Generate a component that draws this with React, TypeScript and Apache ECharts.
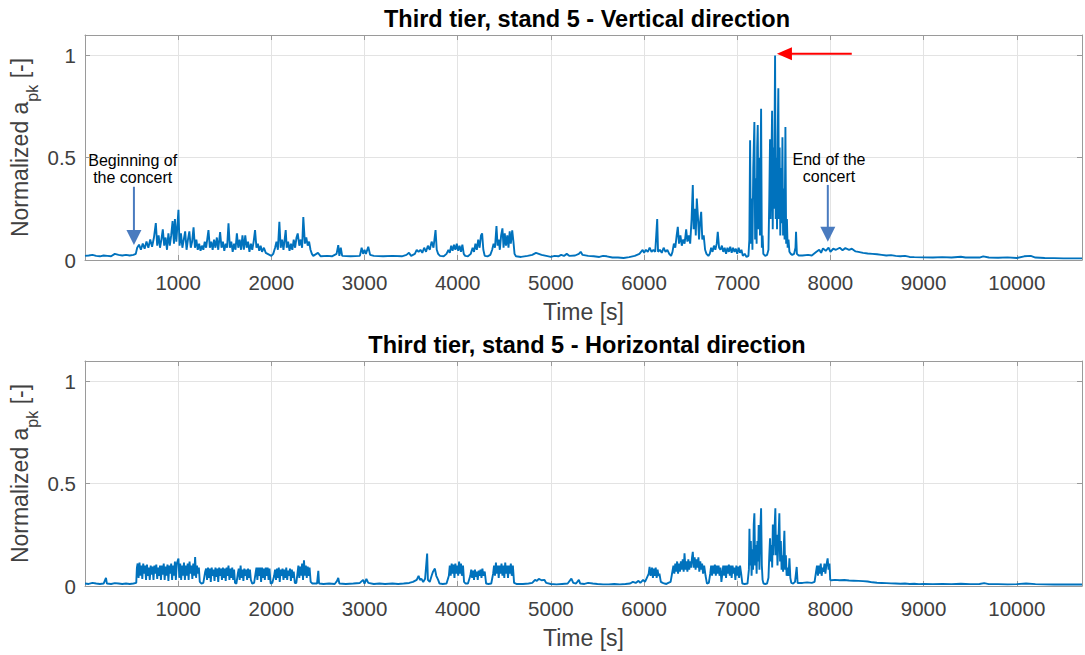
import React, { useEffect, useRef } from "react";
import * as echarts from "echarts";

const FONT = "Arial, 'Liberation Sans', Helvetica, sans-serif";
const X_MAX = 10700;
const Y_MAX = 1.1;
const TITLES = [
  "Third tier, stand 5 - Vertical direction",
  "Third tier, stand 5 - Horizontal direction",
];
const X_NAME = "Time [s]";
const X_TICK_LABELS = [1000, 2000, 3000, 4000, 5000, 6000, 7000, 8000, 9000, 10000];
const Y_TICK_LABELS = [0, 0.5, 1];

type Pt = [number, number];

// ---------- Vertical direction ----------
const vertPre: Pt[] = [[0,0.02],[40,0.022],[80,0.025],[120,0.02],[160,0.018],[200,0.022],[240,0.02],[280,0.018],[320,0.03],[360,0.025],[400,0.022],[440,0.025],[480,0.022],[520,0.025],[545,0.03]];
const vertFirstSet: Pt[] = [[560,0.06],[580,0.075],[600,0.05],[620,0.08],[640,0.055],[660,0.09],[680,0.06],[700,0.1],[720,0.065],[740,0.11],[760,0.18],[775,0.07],[790,0.12],[805,0.06],[820,0.1],[835,0.15],[850,0.07],[865,0.11],[880,0.05],[895,0.13],[910,0.07],[925,0.12],[940,0.19],[955,0.08],[965,0.2],[980,0.09],[1003,0.245],[1015,0.07],[1030,0.13],[1045,0.06],[1060,0.1],[1075,0.14],[1090,0.05],[1105,0.1],[1120,0.14],[1135,0.06],[1150,0.09],[1165,0.16],[1180,0.06],[1195,0.1],[1210,0.05],[1225,0.08],[1240,0.045],[1255,0.07],[1270,0.05],[1285,0.09],[1300,0.06],[1325,0.146],[1340,0.06],[1355,0.09],[1370,0.05],[1385,0.1],[1400,0.06],[1415,0.11],[1430,0.05],[1450,0.136],[1465,0.06],[1480,0.09],[1495,0.045],[1510,0.08],[1525,0.06],[1540,0.18],[1555,0.06],[1570,0.09],[1585,0.04],[1600,0.08],[1615,0.05],[1630,0.13],[1645,0.06],[1660,0.1],[1675,0.05],[1690,0.12],[1705,0.05],[1720,0.12],[1735,0.06],[1750,0.09],[1765,0.04],[1780,0.08],[1795,0.05],[1810,0.09],[1825,0.146],[1840,0.06],[1855,0.08],[1870,0.045],[1885,0.07],[1900,0.04],[1920,0.06],[1940,0.035],[1960,0.03],[1980,0.025],[2000,0.02],[2020,0.03],[2040,0.06],[2055,0.09],[2070,0.05],[2086,0.187],[2100,0.06],[2115,0.1],[2130,0.05],[2154,0.146],[2165,0.06],[2180,0.09],[2195,0.045],[2210,0.08],[2225,0.05],[2240,0.1],[2255,0.06],[2270,0.11],[2283,0.13],[2300,0.07],[2315,0.1],[2330,0.06],[2343,0.21],[2360,0.08],[2375,0.11],[2390,0.07],[2405,0.09],[2420,0.05],[2435,0.03],[2450,0.02]];
const vertInterval: Pt[] = [[2500,0.035],[2530,0.018],[2600,0.02],[2650,0.018],[2700,0.03],[2718,0.073],[2730,0.02],[2745,0.06],[2760,0.02],[2850,0.018],[2950,0.02],[2969,0.06],[2985,0.03],[3000,0.05],[3015,0.03],[3040,0.065],[3060,0.025],[3100,0.02],[3200,0.018],[3300,0.02],[3400,0.018],[3450,0.025],[3477,0.035],[3500,0.02],[3540,0.03],[3560,0.05],[3580,0.04]];
const vertSecondSet: Pt[] = [[3600,0.05],[3620,0.035],[3640,0.06],[3660,0.04],[3680,0.07],[3700,0.05],[3720,0.09],[3740,0.06],[3762,0.146],[3775,0.05],[3790,0.03],[3810,0.02],[3850,0.018],[3880,0.03],[3900,0.05],[3915,0.035],[3930,0.07],[3945,0.045],[3960,0.075],[3975,0.05],[3990,0.08],[4005,0.045],[4020,0.07],[4035,0.04],[4050,0.075],[4065,0.03],[4080,0.02],[4110,0.018],[4140,0.03],[4160,0.06],[4175,0.04],[4190,0.08],[4205,0.05],[4220,0.1],[4235,0.06],[4250,0.12],[4262,0.13],[4275,0.05],[4290,0.02],[4320,0.018],[4350,0.025],[4370,0.05],[4385,0.08],[4400,0.06],[4416,0.166],[4428,0.07],[4440,0.1],[4452,0.05],[4466,0.12],[4480,0.155],[4492,0.06],[4505,0.13],[4518,0.07],[4532,0.12],[4545,0.06],[4558,0.14],[4570,0.08],[4585,0.145],[4598,0.09],[4610,0.03],[4625,0.018]];
const vertQuiet: Pt[] = [[4680,0.015],[4750,0.02],[4800,0.025],[4840,0.035],[4870,0.03],[4900,0.025],[4950,0.02],[5000,0.015],[5040,0.02],[5080,0.018],[5110,0.025],[5140,0.02],[5170,0.03],[5200,0.02],[5260,0.022],[5300,0.03],[5320,0.04],[5340,0.025],[5400,0.02],[5460,0.018],[5520,0.015],[5560,0.02],[5600,0.018],[5660,0.012],[5720,0.012],[5780,0.01],[5840,0.014],[5900,0.02],[5950,0.03],[5985,0.05]];
const vertThirdSet: Pt[] = [[6000,0.035],[6020,0.05],[6040,0.04],[6060,0.06],[6080,0.04],[6100,0.05],[6120,0.04],[6141,0.2],[6150,0.04],[6170,0.05],[6190,0.035],[6210,0.06],[6230,0.04],[6250,0.05],[6270,0.03],[6290,0.02],[6305,0.04],[6320,0.08],[6335,0.06],[6350,0.12],[6362,0.162],[6375,0.08],[6390,0.12],[6405,0.07],[6420,0.1],[6435,0.08],[6452,0.15],[6465,0.09],[6480,0.12],[6495,0.08],[6510,0.2],[6523,0.366],[6532,0.15],[6545,0.25],[6555,0.12],[6566,0.3],[6577,0.22],[6590,0.1],[6600,0.18],[6613,0.236],[6625,0.1],[6640,0.12],[6655,0.05],[6670,0.03],[6690,0.02],[6705,0.03],[6720,0.06],[6735,0.04],[6750,0.07],[6765,0.05],[6780,0.08],[6791,0.138],[6805,0.06],[6820,0.05],[6835,0.07],[6850,0.04],[6865,0.06],[6880,0.03],[6895,0.06],[6910,0.04],[6925,0.065],[6940,0.035],[6955,0.06],[6970,0.04],[6985,0.055],[7000,0.03],[7015,0.06],[7030,0.035],[7045,0.05]];
const vertPeak: Pt[] = [[7060,0.02],[7080,0.03],[7100,0.015],[7120,0.02],[7130,0.1],[7138,0.585],[7146,0.08],[7155,0.3],[7163,0.05],[7172,0.45],[7184,0.675],[7192,0.1],[7200,0.4],[7208,0.08],[7214,0.55],[7220,0.66],[7228,0.15],[7236,0.5],[7244,0.12],[7256,0.74],[7264,0.06],[7272,0.12],[7280,0.03],[7300,0.02],[7320,0.025],[7335,0.05],[7344,0.3],[7352,0.59],[7358,0.2],[7366,0.45],[7374,0.73],[7381,0.15],[7388,0.55],[7395,0.25],[7406,1.0],[7413,0.2],[7420,0.5],[7427,0.15],[7434,0.6],[7441,0.84],[7448,0.2],[7455,0.55],[7462,0.12],[7470,0.45],[7477,0.18],[7485,0.6],[7492,0.12],[7500,0.35],[7508,0.1],[7517,0.65],[7525,0.08],[7533,0.2],[7541,0.06],[7550,0.1],[7560,0.04],[7575,0.03],[7590,0.025],[7610,0.03],[7625,0.06],[7631,0.138],[7640,0.03],[7660,0.022]];
const vertTail: Pt[] = [[7700,0.022],[7760,0.025],[7800,0.022],[7850,0.04],[7880,0.05],[7900,0.035],[7920,0.057],[7950,0.045],[7980,0.06],[8000,0.04],[8030,0.055],[8060,0.05],[8100,0.06],[8130,0.048],[8160,0.058],[8200,0.05],[8230,0.055],[8270,0.042],[8300,0.04],[8350,0.035],[8400,0.032],[8450,0.03],[8500,0.028],[8550,0.025],[8600,0.022],[8650,0.024],[8700,0.02],[8750,0.018],[8800,0.02],[8850,0.015],[8900,0.014],[9000,0.013],[9100,0.012],[9200,0.014],[9300,0.012],[9400,0.016],[9450,0.012],[9500,0.013],[9600,0.012],[9640,0.018],[9700,0.012],[9800,0.011],[9900,0.013],[10000,0.01],[10080,0.018],[10150,0.02],[10200,0.012],[10300,0.01],[10400,0.009],[10500,0.008],[10600,0.008],[10700,0.008]];

// ---------- Horizontal direction ----------
const horPre: Pt[] = [[0,0.012],[40,0.01],[80,0.015],[120,0.012],[160,0.01],[200,0.012],[225,0.04],[235,0.012],[280,0.01],[320,0.014],[360,0.012],[400,0.01],[440,0.012],[480,0.01],[520,0.012],[550,0.015]];
const horFirstSet: Pt[] = [[557,0.09],[565,0.11],[575,0.04],[585,0.115],[595,0.05],[605,0.1],[615,0.035],[625,0.11],[635,0.06],[645,0.1],[655,0.03],[665,0.105],[675,0.05],[685,0.09],[695,0.03],[705,0.1],[715,0.055],[725,0.095],[735,0.03],[745,0.1],[755,0.06],[765,0.105],[775,0.035],[785,0.09],[795,0.05],[805,0.1],[815,0.03],[825,0.1],[835,0.055],[845,0.11],[855,0.03],[865,0.095],[875,0.05],[885,0.105],[895,0.025],[905,0.1],[915,0.06],[925,0.11],[935,0.03],[945,0.1],[955,0.05],[965,0.12],[975,0.03],[985,0.11],[1003,0.134],[1012,0.04],[1022,0.11],[1032,0.03],[1042,0.1],[1052,0.05],[1062,0.115],[1072,0.03],[1082,0.1],[1092,0.05],[1102,0.11],[1112,0.03],[1122,0.12],[1132,0.06],[1142,0.1],[1152,0.035],[1162,0.11],[1172,0.05],[1182,0.142],[1192,0.04],[1202,0.1],[1212,0.06],[1222,0.09],[1232,0.02],[1250,0.012],[1270,0.015],
[1290,0.07],[1300,0.085],[1310,0.03],[1320,0.09],[1330,0.04],[1340,0.085],[1350,0.02],[1360,0.09],[1370,0.05],[1380,0.08],[1390,0.025],[1400,0.09],[1410,0.045],[1420,0.085],[1430,0.02],[1440,0.09],[1450,0.05],[1460,0.085],[1470,0.03],[1480,0.09],[1490,0.04],[1500,0.085],[1510,0.025],[1520,0.09],[1530,0.05],[1540,0.1],[1550,0.03],[1560,0.085],[1570,0.04],[1580,0.09],[1590,0.03],[1600,0.08],[1610,0.015],[1625,0.012],
[1640,0.06],[1650,0.085],[1660,0.03],[1670,0.1],[1680,0.04],[1690,0.08],[1700,0.025],[1710,0.085],[1720,0.05],[1730,0.08],[1740,0.03],[1750,0.085],[1760,0.04],[1770,0.08],[1780,0.03],[1795,0.012],[1815,0.015],
[1830,0.06],[1840,0.09],[1850,0.03],[1860,0.09],[1870,0.05],[1880,0.09],[1890,0.02],[1900,0.09],[1910,0.04],[1920,0.085],[1930,0.03],[1940,0.09],[1950,0.05],[1960,0.09],[1970,0.03],[1980,0.085],[1992,0.012],[2010,0.015],
[2030,0.05],[2040,0.08],[2050,0.03],[2060,0.085],[2070,0.04],[2080,0.09],[2090,0.02],[2100,0.08],[2110,0.05],[2120,0.085],[2130,0.03],[2140,0.08],[2150,0.04],[2160,0.09],[2170,0.03],[2180,0.075],[2190,0.05],[2200,0.085],[2210,0.025],[2220,0.08],[2230,0.04],[2240,0.07],[2252,0.015],[2268,0.015],
[2280,0.06],[2290,0.1],[2300,0.04],[2310,0.095],[2320,0.05],[2330,0.11],[2340,0.03],[2350,0.126],[2360,0.05],[2370,0.1],[2380,0.04],[2390,0.095],[2400,0.05],[2410,0.09],[2422,0.02],[2440,0.012]];
const horInterval: Pt[] = [[2490,0.012],[2504,0.074],[2512,0.012],[2560,0.01],[2620,0.012],[2680,0.01],[2705,0.025],[2718,0.04],[2730,0.012],[2800,0.01],[2880,0.012],[2950,0.015],[2985,0.03],[3000,0.012],[3020,0.035],[3040,0.015],[3100,0.01],[3160,0.012],[3220,0.01],[3300,0.012],[3360,0.01],[3420,0.012],[3480,0.015],[3520,0.02],[3560,0.03],[3580,0.05],[3595,0.03]];
const horSecondSet: Pt[] = [[3610,0.035],[3630,0.02],[3650,0.035],[3672,0.159],[3680,0.03],[3700,0.02],[3720,0.05],[3735,0.07],[3755,0.085],[3770,0.05],[3790,0.03],[3805,0.012],[3840,0.01],[3880,0.012],[3905,0.05],[3915,0.1],[3925,0.05],[3935,0.11],[3945,0.06],[3955,0.105],[3965,0.04],[3975,0.11],[3985,0.06],[3995,0.1],[4005,0.05],[4015,0.12],[4025,0.06],[4035,0.11],[4045,0.05],[4057,0.1],[4068,0.02],[4085,0.012],[4110,0.012],[4135,0.05],[4145,0.08],[4155,0.04],[4165,0.075],[4175,0.03],[4185,0.08],[4195,0.045],[4205,0.07],[4215,0.03],[4225,0.075],[4235,0.05],[4245,0.08],[4255,0.04],[4265,0.085],[4275,0.05],[4290,0.07],[4305,0.012],[4330,0.01],[4360,0.012],[4380,0.06],[4390,0.1],[4400,0.05],[4410,0.115],[4420,0.06],[4430,0.1],[4440,0.04],[4450,0.1],[4460,0.06],[4470,0.11],[4480,0.05],[4490,0.1],[4500,0.04],[4510,0.115],[4520,0.06],[4530,0.1],[4540,0.04],[4550,0.1],[4560,0.06],[4570,0.11],[4580,0.05],[4592,0.1],[4605,0.015],[4630,0.01]];
const horQuiet: Pt[] = [[4700,0.01],[4760,0.012],[4800,0.015],[4830,0.03],[4850,0.025],[4870,0.035],[4900,0.028],[4930,0.03],[4950,0.015],[5000,0.01],[5060,0.008],[5120,0.01],[5180,0.012],[5220,0.036],[5240,0.015],[5270,0.012],[5300,0.03],[5315,0.012],[5360,0.01],[5400,0.015],[5450,0.012],[5500,0.01],[5560,0.008],[5620,0.008],[5680,0.01],[5740,0.008],[5800,0.01],[5850,0.012],[5880,0.02],[5910,0.015],[5940,0.025],[5960,0.015],[5990,0.03]];
const horThirdSet: Pt[] = [[6010,0.02],[6030,0.04],[6050,0.06],[6059,0.094],[6070,0.05],[6085,0.09],[6095,0.04],[6105,0.085],[6115,0.05],[6125,0.09],[6135,0.04],[6145,0.08],[6155,0.05],[6165,0.06],[6180,0.02],[6200,0.015],[6220,0.012],[6240,0.01],[6260,0.015],[6285,0.02],[6300,0.06],[6315,0.1],[6325,0.06],[6335,0.11],[6345,0.07],[6355,0.12],[6365,0.06],[6375,0.11],[6385,0.07],[6395,0.12],[6405,0.08],[6415,0.13],[6425,0.07],[6434,0.16],[6445,0.08],[6455,0.12],[6465,0.07],[6475,0.13],[6485,0.08],[6495,0.12],[6505,0.09],[6515,0.14],[6523,0.167],[6533,0.09],[6543,0.14],[6553,0.08],[6563,0.13],[6573,0.09],[6583,0.14],[6593,0.07],[6603,0.12],[6613,0.08],[6623,0.11],[6633,0.06],[6645,0.1],[6660,0.05],[6675,0.012],[6695,0.015],[6710,0.06],[6720,0.1],[6730,0.05],[6740,0.1],[6750,0.06],[6760,0.105],[6770,0.05],[6780,0.1],[6790,0.06],[6800,0.1],[6810,0.05],[6820,0.09],[6830,0.02],[6840,0.06],[6850,0.1],[6860,0.05],[6870,0.1],[6880,0.04],[6890,0.1],[6900,0.06],[6910,0.105],[6920,0.05],[6930,0.1],[6940,0.04],[6950,0.1],[6960,0.06],[6970,0.09],[6980,0.03],[6990,0.1],[7000,0.05],[7010,0.095],[7020,0.04],[7030,0.1],[7042,0.06],[7055,0.012],[7080,0.01],[7110,0.012]];
const horPeak: Pt[] = [[7125,0.08],[7131,0.28],[7138,0.1],[7146,0.22],[7154,0.05],[7162,0.18],[7170,0.08],[7177,0.3],[7184,0.355],[7192,0.1],[7200,0.2],[7208,0.06],[7216,0.22],[7223,0.12],[7230,0.298],[7238,0.08],[7246,0.25],[7256,0.38],[7264,0.1],[7272,0.03],[7282,0.012],[7300,0.01],[7320,0.012],[7335,0.04],[7344,0.15],[7352,0.233],[7360,0.12],[7368,0.2],[7375,0.09],[7382,0.3],[7390,0.15],[7398,0.25],[7409,0.38],[7416,0.15],[7424,0.25],[7432,0.1],[7440,0.2],[7452,0.355],[7460,0.12],[7468,0.22],[7476,0.08],[7484,0.15],[7492,0.07],[7500,0.2],[7506,0.27],[7514,0.08],[7522,0.15],[7530,0.05],[7540,0.09],[7550,0.05],[7560,0.135],[7570,0.04],[7580,0.015],[7600,0.012],[7620,0.02],[7638,0.093],[7648,0.015],[7700,0.015],[7750,0.018],[7800,0.015],[7830,0.02],[7846,0.07],[7856,0.1],[7866,0.05],[7876,0.1],[7886,0.06],[7896,0.11],[7906,0.05],[7916,0.09],[7926,0.07],[7936,0.11],[7946,0.06],[7956,0.1],[7970,0.135],[7980,0.08],[7990,0.11],[7998,0.03]];
const horTail: Pt[] = [[8010,0.028],[8050,0.03],[8100,0.028],[8150,0.029],[8200,0.027],[8250,0.026],[8300,0.025],[8350,0.024],[8400,0.022],[8450,0.018],[8500,0.016],[8550,0.015],[8600,0.014],[8650,0.013],[8700,0.012],[8750,0.011],[8800,0.012],[8850,0.01],[8900,0.011],[8950,0.009],[9000,0.01],[9100,0.009],[9200,0.01],[9300,0.009],[9400,0.011],[9500,0.009],[9600,0.01],[9650,0.014],[9700,0.009],[9800,0.009],[9900,0.008],[10000,0.009],[10100,0.012],[10200,0.009],[10300,0.008],[10400,0.007],[10500,0.008],[10600,0.007],[10700,0.007]];

const vertical: Pt[] = [...vertPre, ...vertFirstSet, ...vertInterval, ...vertSecondSet, ...vertQuiet, ...vertThirdSet, ...vertPeak, ...vertTail];
const horizontal: Pt[] = [...horPre, ...horFirstSet, ...horInterval, ...horSecondSet, ...horQuiet, ...horThirdSet, ...horPeak, ...horTail];

// annotation anchors in data coordinates
const BEGIN_TEXT = "Beginning of\nthe concert";
const END_TEXT = "End of the\nconcert";
const beginTextAt: Pt = [512, 0.446];
const beginArrow: [number, number, number] = [525, 0.358, 0.073];
const endTextAt: Pt = [7985, 0.449];
const endArrow: [number, number, number] = [7972, 0.367, 0.089];
const maxArrow: [number, number, number] = [8229, 7426, 1.008];

const GRID_LEFT = 85;
const GRID_W = 999;
const GRID_H = 225;
const GRID_TOPS = [35, 361];

const AXIS_COLOR = "#9a9a9a";
const LABEL_COLOR = "#404040";
const LINE_COLOR = "#0072BD";
const ARROW_BLUE = "#4a7bbf";

export default function App() {
  const ref = useRef<HTMLDivElement>(null);
  useEffect(() => {
    if (!ref.current) return;
    const chart = echarts.init(ref.current, undefined, { renderer: "svg" });
    const xAxes: any[] = [];
    const yAxes: any[] = [];
    GRID_TOPS.forEach((_, i) => {
      const line = { show: true, onZero: false, lineStyle: { color: AXIS_COLOR, width: 1 } };
      const tick = { show: true, inside: true, length: 5, lineStyle: { color: AXIS_COLOR } };
      xAxes.push({
        type: "value", gridIndex: i, min: 0, max: X_MAX, interval: 1000, position: "bottom",
        axisLine: line, axisTick: tick,
        axisLabel: {
          margin: 12, fontSize: 20.5, color: LABEL_COLOR, fontFamily: FONT,
          formatter: (v: number) => (X_TICK_LABELS.indexOf(v) >= 0 ? String(v) : ""),
        },
        splitLine: { show: true, lineStyle: { color: "#e3e3e3", width: 1 } },
        name: X_NAME, nameLocation: "middle", nameGap: 40,
        nameTextStyle: { fontSize: 23, color: LABEL_COLOR, fontFamily: FONT },
      });
      xAxes.push({
        type: "value", gridIndex: i, min: 0, max: X_MAX, interval: 1000, position: "top",
        axisLine: line, axisTick: tick, axisLabel: { show: false }, splitLine: { show: false },
      });
      yAxes.push({
        type: "value", gridIndex: i, min: 0, max: Y_MAX, interval: 0.5, position: "left",
        axisLine: line, axisTick: tick,
        axisLabel: {
          margin: 9, fontSize: 20.5, color: LABEL_COLOR, fontFamily: FONT,
          formatter: (v: number) => (Y_TICK_LABELS.indexOf(v) >= 0 ? String(v) : ""),
        },
        splitLine: { show: true, lineStyle: { color: "#e3e3e3", width: 1 } },
      });
      yAxes.push({
        type: "value", gridIndex: i, min: 0, max: Y_MAX, interval: 0.5, position: "right",
        axisLine: line, axisTick: tick, axisLabel: { show: false }, splitLine: { show: false },
      });
    });

    chart.setOption({
      animation: false,
      backgroundColor: "#ffffff",
      grid: GRID_TOPS.map((t) => ({ left: GRID_LEFT, top: t, width: GRID_W, height: GRID_H })),
      xAxis: xAxes,
      yAxis: yAxes,
      series: [
        { type: "line", name: "Vertical", xAxisIndex: 0, yAxisIndex: 0, data: vertical, showSymbol: false, symbol: "none", silent: true, lineStyle: { color: LINE_COLOR, width: 1.9 }, itemStyle: { color: LINE_COLOR } },
        { type: "line", name: "Horizontal", xAxisIndex: 2, yAxisIndex: 2, data: horizontal, showSymbol: false, symbol: "none", silent: true, lineStyle: { color: LINE_COLOR, width: 1.9 }, itemStyle: { color: LINE_COLOR } },
      ],
    });

    const px = (p: Pt) => chart.convertToPixel({ gridIndex: 0 }, p) as number[];
    const graphics: any[] = [];
    // titles
    TITLES.forEach((t, i) => {
      graphics.push({
        type: "text", x: 587, y: i === 0 ? 18.6 : 345.2,
        style: { text: t, fontSize: 23.5, fontWeight: "bold", fontFamily: FONT, fill: "#000", textAlign: "center", textVerticalAlign: "middle", align: "center", verticalAlign: "middle" },
      });
    });
    // y-axis names
    GRID_TOPS.forEach((t) => {
      graphics.push({
        type: "text", x: 20, y: t + GRID_H / 2, rotation: Math.PI / 2,
        style: {
          text: "{n|Normalized a}{s|pk}{n| [-]}",
          rich: {
            n: { fontSize: 23, fontFamily: FONT, fill: LABEL_COLOR },
            s: { fontSize: 16, fontFamily: FONT, fill: LABEL_COLOR, padding: [24, 0, 0, 0] },
          },
          fill: LABEL_COLOR, textAlign: "center", textVerticalAlign: "middle", align: "center", verticalAlign: "middle",
        },
      });
    });
    // annotation texts
    [[beginTextAt, BEGIN_TEXT], [endTextAt, END_TEXT]].forEach(([at, txt]: any) => {
      const p = px(at);
      graphics.push({
        type: "text", x: p[0], y: p[1],
        style: { text: txt, fontSize: 16, lineHeight: 17, fontFamily: FONT, fill: "#000", textAlign: "center", textVerticalAlign: "middle", align: "center", verticalAlign: "middle" },
      });
    });
    // blue down arrows
    [beginArrow, endArrow].forEach(([x, y0, y1]) => {
      const a = px([x, y0]);
      const b = px([x, y1]);
      graphics.push({ type: "line", shape: { x1: a[0], y1: a[1], x2: b[0], y2: b[1] - 14 }, style: { stroke: ARROW_BLUE, lineWidth: 2 } });
      graphics.push({ type: "polygon", shape: { points: [[b[0] - 7.5, b[1] - 15], [b[0] + 7.5, b[1] - 15], [b[0], b[1]]] }, style: { fill: ARROW_BLUE } });
    });
    // red arrow pointing at the maximum
    {
      const [xs, xt, y] = maxArrow;
      const a = px([xs, y]);
      const b = px([xt, y]);
      graphics.push({ type: "line", shape: { x1: a[0], y1: a[1], x2: b[0] + 14, y2: b[1] }, style: { stroke: "#ff0000", lineWidth: 2 } });
      graphics.push({ type: "polygon", shape: { points: [[b[0], b[1]], [b[0] + 15, b[1] - 6.5], [b[0] + 15, b[1] + 6.5]] }, style: { fill: "#ff0000" } });
    }
    chart.setOption({ graphic: graphics });

    return () => chart.dispose();
  }, []);

  return (
    <div
      ref={ref}
      style={{ position: "fixed", left: 0, top: 0, width: 1085, height: 655, background: "#fff" }}
    />
  );
}
